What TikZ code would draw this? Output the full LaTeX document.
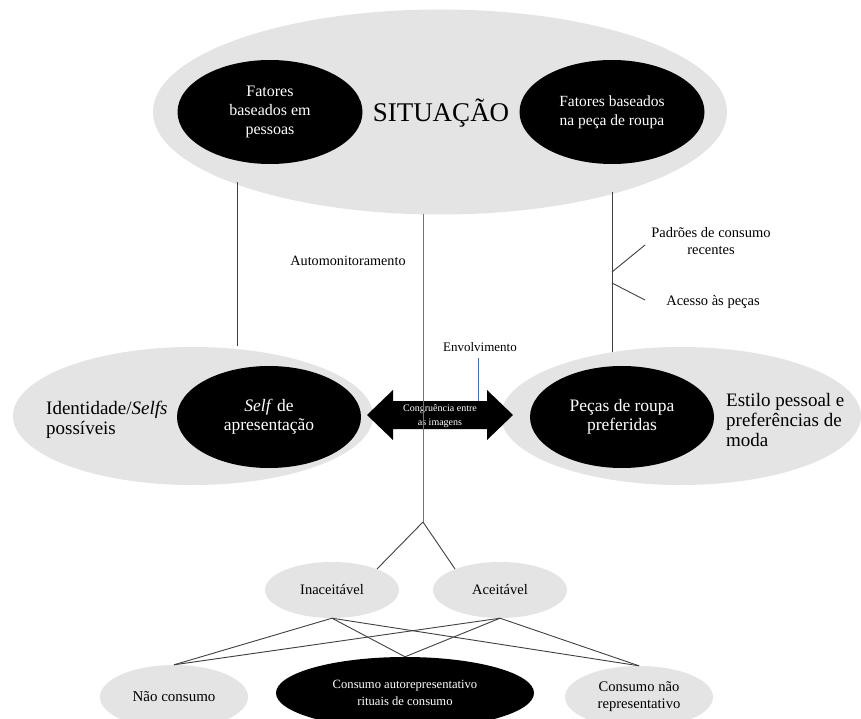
\documentclass[tikz,border=0pt]{standalone}
\usepackage{fontspec}
\setmainfont{Liberation Serif}
\usetikzlibrary{shapes.geometric}
\newcommand{\myfs}[2]{\fontsize{#1}{#2}\selectfont}
\definecolor{lgray}{RGB}{228,228,228}
\definecolor{lineblue}{RGB}{70,110,170}
\begin{document}
\begin{tikzpicture}[x=1pt,y=-1pt,
  greyell/.style={ellipse, fill=lgray, draw=none, inner sep=0pt, align=center},
  blackell/.style={ellipse, fill=black, text=white, align=center, inner sep=0pt},
  conn/.style={draw=black!75, line width=0.9pt},
  bline/.style={draw=lineblue, line width=0.8pt},
  lbl/.style={align=center, inner sep=0pt}]
\useasboundingbox (0,0) rectangle (861,719);
\fill[white] (0,0) rectangle (861,719);

% top
\node[greyell, minimum width=574pt, minimum height=205pt] (sit) at (440,112) {};
\node[blackell, minimum width=185pt, minimum height=104pt, font=\myfs{16}{19}] (fp) at (270,112) {Fatores\\baseados em\\pessoas};
\node[blackell, minimum width=185pt, minimum height=104pt, font=\myfs{15.5}{19}] (fr) at (612,112) {Fatores baseados\\na peça de roupa};
\node[lbl, font=\myfs{27}{30}] (sitt) at (441,113) {SITUAÇÃO};

% middle
\node[greyell, minimum width=360pt, minimum height=138pt] (iden) at (193,416) {};
\node[greyell, minimum width=360pt, minimum height=138pt] (estg) at (681,416) {};
\node[blackell, minimum width=184pt, minimum height=102pt, font=\myfs{17.5}{19}] (selfap) at (269,417) {\textit{Self} de\\apresentação};
\node[blackell, minimum width=184pt, minimum height=102pt, font=\myfs{17.5}{19}] (pecas) at (622,417) {Peças de roupa\\preferidas};
\node[lbl, align=left, anchor=west, font=\myfs{19}{20}] (identxt) at (46,420) {Identidade/\textit{Selfs}\\possíveis};
\node[lbl, align=left, anchor=west, font=\myfs{19}{20}] (esttxt) at (726,420) {Estilo pessoal e\\preferências de\\moda};

% double arrow
\fill[black] (367,415) -- (393,390) -- (393,401) -- (487,401) -- (487,390) -- (513,415)
  -- (487,440) -- (487,429) -- (393,429) -- (393,440) -- cycle;
\node[lbl, text=white, font=\myfs{10}{14}] (cong) at (440,416) {Congruência entre\\as imagens};

% labels
\node[lbl, font=\myfs{14.2}{17}] (automon) at (348,261) {Automonitoramento};
\node[lbl, font=\myfs{13}{15}] (envol) at (480,347) {Envolvimento};
\node[lbl, font=\myfs{14.5}{17}] (padroes) at (711,241) {Padrões de consumo\\recentes};
\node[lbl, font=\myfs{14.5}{17}] (acesso) at (713,302) {Acesso às peças};

% bottom
\node[greyell, minimum width=134pt, minimum height=56pt, font=\myfs{14.5}{17}] (inac) at (332,590) {Inaceitável};
\node[greyell, minimum width=134pt, minimum height=56pt, font=\myfs{14.5}{17}] (acei) at (500,590) {Aceitável};
\node[greyell, minimum width=148pt, minimum height=64pt, font=\myfs{15}{17}] (nao) at (174,697) {Não consumo};
\node[blackell, minimum width=258pt, minimum height=72pt, font=\myfs{12.6}{17}] (auto) at (405,693) {Consumo autorepresentativo\\rituais de consumo};
\node[greyell, minimum width=148pt, minimum height=62pt, font=\myfs{14.6}{17}] (cnr) at (639,697) {Consumo não\\representativo};

% connectors
\coordinate (l1top) at (237,182);
\coordinate (l1bot) at (237,346);
\coordinate (rtop) at (612,192);
\coordinate (rbot) at (612,352);
\coordinate (ctop) at (423,214);
\coordinate (fork) at (423,522);
\coordinate (b1) at (612,272);
\coordinate (b1e) at (645,245);
\coordinate (b2) at (612,283);
\coordinate (b2e) at (645,300);
\coordinate (envbot) at (478,358);
\coordinate (arrtop) at (478,401);

\draw[conn] (l1top) -- (l1bot);
\draw[conn] (rtop) -- (rbot);
\draw[conn] (b1) -- (b1e);
\draw[conn] (b2) -- (b2e);
\draw[bline] (envbot) -- (arrtop);
\draw[draw=black!55, line width=0.9pt] (ctop) -- (fork);
\draw[conn] (fork) -- (inac.25);
\draw[conn] (fork) -- (acei.155);
\foreach \a in {inac, acei}{
  \draw[conn] (\a.south) -- (nao.north);
  \draw[conn] (\a.south) -- (auto.north);
  \draw[conn] (\a.south) -- (cnr.north);
}
\end{tikzpicture}
\end{document}
